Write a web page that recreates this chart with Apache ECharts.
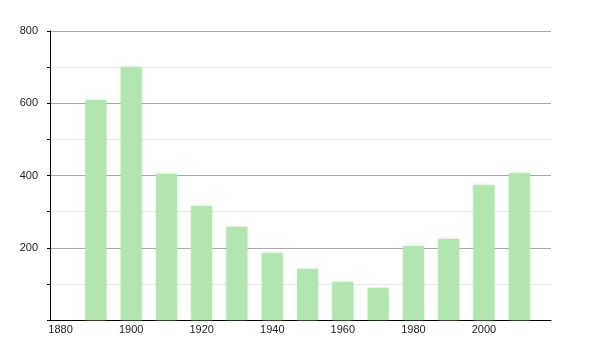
<!DOCTYPE html>
<html>
<head>
<meta charset="utf-8">
<script src="https://cdn.jsdelivr.net/npm/echarts@6/dist/echarts.min.js"></script>
<style>html,body{margin:0;padding:0;background:#fff}#c{width:600px;height:350px}</style>
</head>
<body>
<div id="c"></div>
<script>
var years = [1890, 1900, 1910, 1920, 1930, 1940, 1950, 1960, 1970, 1980, 1990, 2000, 2010];
var values = [608, 700, 404, 315, 258, 185, 141, 105, 89, 205, 224, 373, 406];
var xTickLabels = [1880, 1900, 1920, 1940, 1960, 1980, 2000];
var yTickLabels = [200, 400, 600, 800];

var chart = echarts.init(document.getElementById('c'), null, {renderer: 'canvas'});
chart.setOption({
  animation: false,
  grid: {left: 50, right: 49, top: 31, bottom: 30},
  textStyle: {fontFamily: 'Liberation Sans, Arial, sans-serif'},
  xAxis: {
    type: 'value', min: 1877, max: 2019,
    axisLine: {show: true, lineStyle: {color: '#000', width: 1}},
    axisTick: {show: false},
    splitLine: {show: false},
    axisLabel: {customValues: xTickLabels, color: '#222', fontSize: 11, margin: 4,
      formatter: function (v) { return String(v); }}
  },
  yAxis: {
    type: 'value', min: 0, max: 800, interval: 100,
    axisLine: {show: true, lineStyle: {color: '#000', width: 1}},
    axisTick: {show: true, length: 3, lineStyle: {color: '#000'}},
    splitLine: {show: true, lineStyle: {color: ['#a8a8a8', '#e8e8e8'], width: 1}},
    axisLabel: {color: '#222', fontSize: 11, margin: 12,
      formatter: function (v) { return yTickLabels.indexOf(v) >= 0 ? String(v) : ''; }}
  },
  series: [{
    type: 'bar',
    barWidth: 21,
    data: years.map(function (y, i) { return [y, values[i]]; }),
    itemStyle: {color: '#b3e5b0', shadowColor: 'rgba(170,225,165,0.8)', shadowBlur: 3}
  }]
});
</script>
</body>
</html>
